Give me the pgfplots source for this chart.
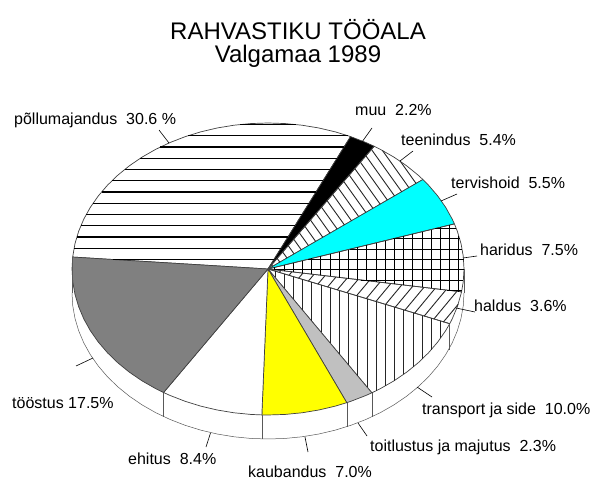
\documentclass[border=0pt]{standalone}
\usepackage{pgfplots}
\pgfplotsset{compat=1.18}
\usepackage{fontspec}
\setmainfont{Liberation Sans}
\definecolor{edge}{gray}{0.25}
\definecolor{cyn}{RGB}{0,255,255}
\definecolor{yel}{RGB}{255,255,0}
\begin{document}
\begin{tikzpicture}
\useasboundingbox (0,0) rectangle (592pt,479pt);
% pie: one unit = 196 pt across, 146 pt up; every wedge is (angle, radius) in polar data
\begin{axis}[at={(0,0)},anchor=south west,scale only axis,width=592pt,height=479pt,
  xmin=-1.36735,xmax=1.65306,ymin=-1.43836,ymax=1.84247,hide axis,clip=false,
  every axis plot/.append style={data cs=polar,draw=edge,line width=0.7pt,line join=round}]
% rim
\addplot[draw=black!65,line width=0.5pt,yshift=-24pt] coordinates {(180,1)(185,1)(190,1)(195,1)(200,1)(205,1)(210,1)(215,1)(220,1)(225,1)(230,1)(235,1)(240,1)(245,1)(250,1)(255,1)(260,1)(265,1)(270,1)(275,1)(280,1)(285,1)(290,1)(295,1)(300,1)(305,1)(310,1)(315,1)(320,1)(325,1)(330,1)(335,1)(340,1)(345,1)(350,1)(355,1)(360,1)};
% põllumajandus 30.6
\addplot[] coordinates {(0,0)(175.3,1)(170,1)(165,1)(160,1)(155,1)(150,1)(145,1)(140,1)(135,1)(130,1)(125,1)(120,1)(115,1)(110,1)(105,1)(100,1)(95,1)(90,1)(85,1)(80,1)(75,1)(70,1)(65.1,1)(0,0)};
% muu 2.2
\addplot[fill=black] coordinates {(0,0)(65.1,1)(60,1)(57.2,1)(0,0)};
% teenindus 5.4
\addplot[] coordinates {(0,0)(57.2,1)(55,1)(50,1)(45,1)(40,1)(37.8,1)(0,0)};
% tervishoid 5.5
\addplot[fill=cyn] coordinates {(0,0)(37.8,1)(35,1)(30,1)(25,1)(20,1)(18,1)(0,0)};
% haridus 7.5
\addplot[] coordinates {(0,0)(18,1)(15,1)(10,1)(5,1)(0,1)(-5,1)(-9,1)(0,0)};
% haldus 3.6
\addplot[] coordinates {(0,0)(-9,1)(-15,1)(-20,1)(-22,1)(0,0)};
% transport ja side 10.0
\addplot[] coordinates {(0,0)(-22,1)(-25,1)(-30,1)(-35,1)(-40,1)(-45,1)(-50,1)(-55,1)(-58,1)(0,0)};
% toitlustus ja majutus 2.3
\addplot[fill={rgb,255:red,192;green,192;blue,192}] coordinates {(0,0)(-58,1)(-60,1)(-65,1)(-66.3,1)(0,0)};
% kaubandus 7.0
\addplot[fill=yel] coordinates {(0,0)(-66.3,1)(-70,1)(-75,1)(-80,1)(-85,1)(-90,1)(-91.8,1)(0,0)};
% ehitus 8.4
\addplot[fill=white] coordinates {(0,0)(-91.8,1)(-95,1)(-100,1)(-105,1)(-110,1)(-115,1)(-120,1)(-122.2,1)(0,0)};
% tööstus 17.5
\addplot[fill={rgb,255:red,128;green,128;blue,128}] coordinates {(0,0)(-122.2,1)(-125,1)(-130,1)(-135,1)(-140,1)(-145,1)(-150,1)(-155,1)(-160,1)(-165,1)(-170,1)(-175,1)(-180,1)(-184.7,1)(0,0)};
\end{axis}
% hatching, labels and leaders: in pixels of the reference
\begin{axis}[at={(0,0)},anchor=south west,scale only axis,width=592pt,height=479pt,
  xmin=0,xmax=592,ymin=0,ymax=479,y dir=reverse,hide axis,clip=false,
  every axis plot/.append style={line width=0.6pt}]
% hatch: põllumajandus (breaks in a single path are empty lines of the table)
\addplot[black,line width=1.25pt,forget plot] table[row sep=\\] {
x y\\
240 124.5\\ 296 124.5\\ \\ 187.9 135.75\\ 348.1 135.75\\ \\ 160.3 147\\ 343.8 147\\ \\ 140.3 158.25\\ 336.8 158.25\\ \\
124.6 169.5\\ 329.8 169.5\\ \\ 111.9 180.75\\ 322.8 180.75\\ \\ 101.5 192\\ 315.8 192\\ \\ 93 203.25\\ 308.8 203.25\\ \\
86.2 214.5\\ 301.9 214.5\\ \\ 80.8 225.75\\ 294.9 225.75\\ \\ 76.8 237\\ 287.9 237\\ \\ 74 248.25\\ 280.9 248.25\\ \\ 112.8 259.5\\ 273.9 259.5\\
};
% hatch: teenindus
\addplot[black!85,line width=0.9pt,forget plot] table[row sep=\\] {
x y\\
400.1 161\\ 416.1 183.5\\ \\ 382.4 150.4\\ 408.9 187.6\\ \\ 371.6 149.7\\ 401.7 191.8\\ \\ 366.1 156.1\\ 394.5 195.9\\ \\
360.6 162.5\\ 387.4 200.1\\ \\ 355 168.9\\ 380.2 204.2\\ \\ 349.4 175.3\\ 373 208.4\\ \\ 343.9 181.7\\ 365.9 212.5\\ \\
338.3 188.1\\ 358.7 216.6\\ \\ 332.8 194.5\\ 351.5 220.8\\ \\ 327.2 200.9\\ 344.4 224.9\\ \\ 321.6 207.3\\ 337.2 229.1\\ \\
316.1 213.7\\ 330 233.2\\ \\ 310.5 220.1\\ 322.8 237.3\\ \\ 305 226.5\\ 315.7 241.5\\ \\ 299.4 232.9\\ 308.5 245.6\\ \\
293.8 239.3\\ 301.3 249.8\\ \\ 288.3 245.7\\ 294.1 253.9\\ \\ 282.7 252.1\\ 287 258\\ \\ 277.2 258.4\\ 279.8 262.2\\ \\ 271.6 264.8\\ 272.7 266.3\\
};
% hatch: haridus
\addplot[black,line width=0.9pt,forget plot] table[row sep=\\] {
x y\\
274.9 267.3\\ 274.9 269.8\\ \\ 284.1 265.1\\ 284.1 270.9\\ \\ 293.3 262.9\\ 293.3 272\\ \\ 302.5 260.7\\ 302.5 273.1\\ \\
311.7 258.4\\ 311.7 274.2\\ \\ 320.9 256.2\\ 320.9 275.3\\ \\ 330.1 254\\ 330.1 276.4\\ \\ 339.3 251.8\\ 339.3 277.5\\ \\
348.5 249.5\\ 348.5 278.6\\ \\ 357.7 247.3\\ 357.7 279.7\\ \\ 366.9 245.1\\ 366.9 280.7\\ \\ 376.1 242.9\\ 376.1 281.8\\ \\
385.3 240.6\\ 385.3 282.9\\ \\ 394.5 238.4\\ 394.5 284\\ \\ 403.7 236.2\\ 403.7 285.1\\ \\ 412.9 234\\ 412.9 286.2\\ \\
422.1 231.7\\ 422.1 287.3\\ \\ 431.3 229.5\\ 431.3 288.4\\ \\ 440.5 227.3\\ 440.5 289.5\\ \\ 449.7 225\\ 449.7 290.6\\ \\ 458.9 235.9\\ 458.9 291.7\\ \\
435.4 228.5\\ 456.3 228.5\\ \\ 392.8 238.8\\ 459.8 238.8\\ \\ 350.3 249.1\\ 462.2 249.1\\ \\ 307.7 259.4\\ 463.6 259.4\\ \\
273.9 269.7\\ 464 269.7\\ \\ 360.6 280\\ 463.4 280\\ \\ 447.3 290.3\\ 461.9 290.3\\
};
% hatch: haldus
\addplot[black!85,line width=0.9pt,forget plot] table[row sep=\\] {
x y\\
458.2 304.3\\ 443.4 322\\ \\ 456.8 291.4\\ 433.8 319.1\\ \\ 445.8 290.1\\ 424.1 316.2\\ \\ 434.8 288.8\\ 414.5 313.3\\ \\
423.8 287.5\\ 404.8 310.3\\ \\ 412.8 286.2\\ 395.1 307.4\\ \\ 401.8 284.9\\ 385.5 304.5\\ \\ 390.8 283.6\\ 375.8 301.6\\ \\
379.9 282.3\\ 366.2 298.7\\ \\ 368.9 281\\ 356.5 295.8\\ \\ 357.9 279.7\\ 346.9 292.8\\ \\ 346.9 278.4\\ 337.2 289.9\\ \\
335.9 277.1\\ 327.6 287\\ \\ 324.9 275.8\\ 317.9 284.1\\ \\ 313.9 274.5\\ 308.3 281.2\\ \\ 302.9 273.1\\ 298.6 278.3\\ \\
291.9 271.8\\ 289 275.3\\ \\ 280.9 270.5\\ 279.3 272.4\\
};
% hatch: transport ja side
\addplot[black!85,line width=0.8pt,forget plot] table[row sep=\\] {
x y\\
274.9 271.1\\ 274.9 277.2\\ \\ 284.1 273.9\\ 284.1 288.2\\ \\ 293.3 276.6\\ 293.3 299.2\\ \\ 302.5 279.4\\ 302.5 310.1\\ \\
311.7 282.2\\ 311.7 321.1\\ \\ 320.9 285\\ 320.9 332.1\\ \\ 330.1 287.8\\ 330.1 343\\ \\ 339.3 290.5\\ 339.3 354\\ \\
348.5 293.3\\ 348.5 365\\ \\ 357.7 296.1\\ 357.7 376\\ \\ 366.9 298.9\\ 366.9 386.9\\ \\ 376.1 301.7\\ 376.1 390.8\\ \\
385.3 304.4\\ 385.3 386\\ \\ 394.5 307.2\\ 394.5 380.5\\ \\ 403.7 310\\ 403.7 374.4\\ \\ 412.9 312.8\\ 412.9 367.3\\ \\
422.1 315.6\\ 422.1 359.2\\ \\ 431.3 318.3\\ 431.3 349.7\\ \\ 440.5 321.1\\ 440.5 338.3\\
};
% rim verticals
\addplot[black!65] coordinates {(72,257)(72,293)};
\addplot[black!65] coordinates {(464,269)(464,293)};
\addplot[black!65] coordinates {(449,325)(449,350)};
\addplot[black!65] coordinates {(372,393)(372,417)};
\addplot[black!65] coordinates {(347,403)(347,427)};
\addplot[black!65] coordinates {(262,415)(262,439)};
\addplot[black!65] coordinates {(163.5,393)(163.5,417)};
% leaders
\addplot[black] coordinates {(159,130)(169,143)};
\addplot[black] coordinates {(372,128)(362,142)};
\addplot[black] coordinates {(413,151)(400,161)};
\addplot[black] coordinates {(457,194)(441,201)};
\addplot[black] coordinates {(477,256)(463,258)};
\addplot[black] coordinates {(475,312)(456,308)};
\addplot[black] coordinates {(432,397)(417,387)};
\addplot[black] coordinates {(367,436)(358,423)};
\addplot[black] coordinates {(308,452)(305,437)};
\addplot[black] coordinates {(206,447)(210.5,433)};
\addplot[black] coordinates {(76,366)(93,358)};
\tikzset{lab/.style={anchor=base west,inner sep=0pt,font=\fontsize{16}{19}\selectfont}}
\node[font=\fontsize{24}{28}\selectfont,inner sep=0pt,anchor=base] at (axis cs:298,39) {RAHVASTIKU TÖÖALA};
\node[font=\fontsize{24}{28}\selectfont,inner sep=0pt,anchor=base] at (axis cs:298,62) {Valgamaa 1989};
\node[lab] at (axis cs:14,124) {põllumajandus\ \ 30.6 \%};
\node[lab] at (axis cs:355,115) {muu\ \ 2.2\%};
\node[lab] at (axis cs:401,145) {teenindus\ \ 5.4\%};
\node[lab] at (axis cs:451,188) {tervishoid\ \ 5.5\%};
\node[lab] at (axis cs:480,255) {haridus\ \ 7.5\%};
\node[lab] at (axis cs:474,311) {haldus\ \ 3.6\%};
\node[lab] at (axis cs:422,414) {transport ja side\ \ 10.0\%};
\node[lab] at (axis cs:370,451) {toitlustus ja majutus\ \ 2.3\%};
\node[lab] at (axis cs:248,477) {kaubandus\ \ 7.0\%};
\node[lab] at (axis cs:128,464) {ehitus\ \ 8.4\%};
\node[lab] at (axis cs:12,408) {tööstus 17.5\%};
\end{axis}
\end{tikzpicture}
\end{document}
